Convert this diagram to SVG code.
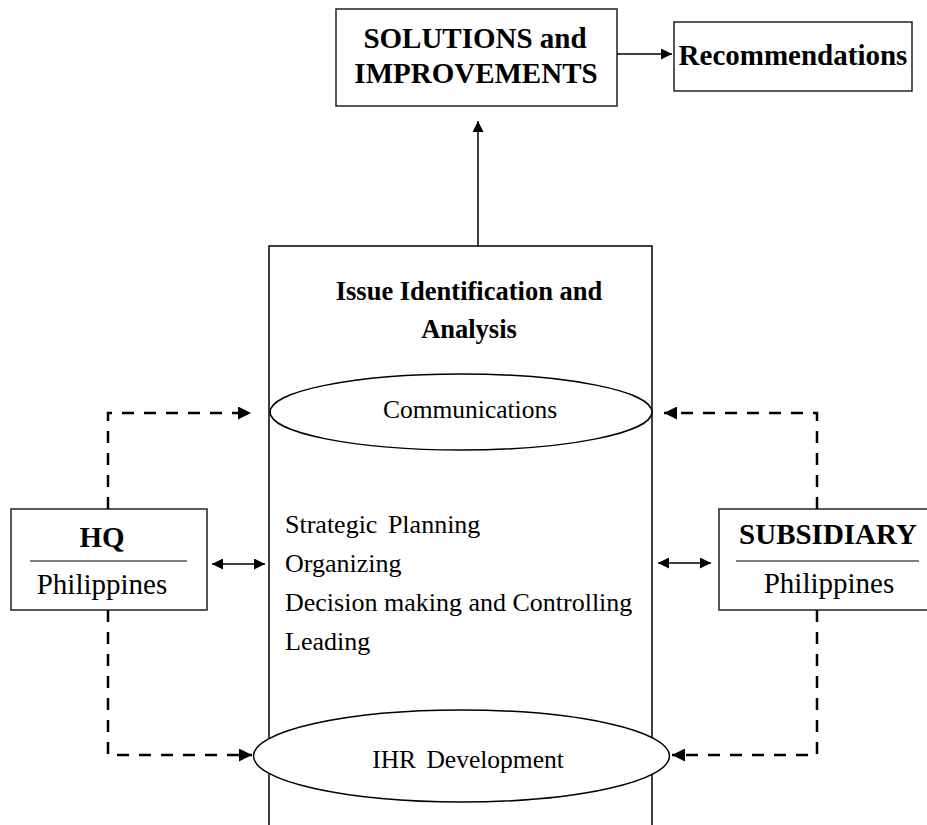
<svg xmlns="http://www.w3.org/2000/svg" width="927" height="825" viewBox="0 0 927 825">
<style>
.box{fill:#fff;stroke:#222;stroke-width:1.5}
.t{font-family:"Liberation Serif","Times New Roman",serif;fill:#000}
.b{font-weight:bold}
.ln{stroke:#000;stroke-width:1.5;fill:none}
.dash{stroke:#000;stroke-width:2.5;fill:none;stroke-dasharray:12,10}
</style>
<defs>
<marker id="ah" viewBox="0 0 10 10" refX="10" refY="5" markerWidth="12" markerHeight="11" markerUnits="userSpaceOnUse" orient="auto-start-reverse">
<path d="M0,0 L10,5 L0,10 z" fill="#000"/>
</marker>
<marker id="ahd" viewBox="0 0 10 10" refX="10" refY="5" markerWidth="13" markerHeight="13" markerUnits="userSpaceOnUse" orient="auto">
<path d="M0,0 L10,5 L0,10 z" fill="#000"/>
</marker>
</defs>
<rect width="927" height="825" fill="#fff"/>

<g id="main">
<path class="ln" d="M269,825 V246 H652 V825"/>
<text class="t b" x="469" y="300" font-size="26.5" text-anchor="middle">Issue Identification and</text>
<text class="t b" x="469" y="338" font-size="26.5" text-anchor="middle">Analysis</text>
<text class="t" x="285" y="533" font-size="26" word-spacing="4">Strategic Planning</text>
<text class="t" x="285" y="572" font-size="26">Organizing</text>
<text class="t" x="285" y="611" font-size="26">Decision making and Controlling</text>
<text class="t" x="285" y="650" font-size="26">Leading</text>
</g>

<g id="communications">
<ellipse cx="461" cy="412" rx="191" ry="38" fill="#fff" stroke="#000" stroke-width="1.5"/>
<text class="t" x="470" y="418" font-size="25.5" text-anchor="middle">Communications</text>
</g>

<g id="ihr">
<ellipse cx="461.5" cy="756" rx="208" ry="46" fill="#fff" stroke="#000" stroke-width="1.5"/>
<text class="t" x="468" y="768" font-size="25.5" text-anchor="middle" word-spacing="4">IHR Development</text>
</g>

<g id="solutions">
<rect class="box" x="336" y="9" width="281" height="97"/>
<text class="t b" x="475" y="48" font-size="29" text-anchor="middle">SOLUTIONS and</text>
<text class="t b" x="476" y="83" font-size="29" text-anchor="middle">IMPROVEMENTS</text>
</g>

<g id="recommendations">
<rect class="box" x="674" y="22" width="238" height="69"/>
<text class="t b" x="793" y="65" font-size="29" text-anchor="middle">Recommendations</text>
</g>

<g id="hq">
<rect class="box" x="11" y="509" width="196" height="101"/>
<text class="t b" x="102" y="547" font-size="29" text-anchor="middle">HQ</text>
<line x1="30" y1="561" x2="187" y2="561" stroke="#000" stroke-width="1.2"/>
<text class="t" x="102" y="594" font-size="29" text-anchor="middle">Philippines</text>
</g>

<g id="subsidiary">
<rect class="box" x="719" y="509" width="215" height="101"/>
<text class="t b" x="828" y="544" font-size="29" text-anchor="middle">SUBSIDIARY</text>
<line x1="736" y1="561" x2="919" y2="561" stroke="#000" stroke-width="1.2"/>
<text class="t" x="829" y="593" font-size="29" text-anchor="middle">Philippines</text>
</g>

<g id="connectors">
<line class="ln" x1="617" y1="54" x2="672" y2="54" marker-end="url(#ah)"/>
<line class="ln" x1="478" y1="246" x2="478" y2="121" marker-end="url(#ah)"/>
<line class="ln" x1="212" y1="564" x2="265" y2="564" marker-start="url(#ah)" marker-end="url(#ah)"/>
<line class="ln" x1="658" y1="563" x2="711" y2="563" marker-start="url(#ah)" marker-end="url(#ah)"/>
<path class="dash" d="M108,509 V413 H251" marker-end="url(#ahd)"/>
<path class="dash" d="M108,610 V755 H252" marker-end="url(#ahd)"/>
<path class="dash" d="M817,509 V413 H664" marker-end="url(#ahd)"/>
<path class="dash" d="M817,610 V755 H672" marker-end="url(#ahd)"/>
</g>
</svg>
